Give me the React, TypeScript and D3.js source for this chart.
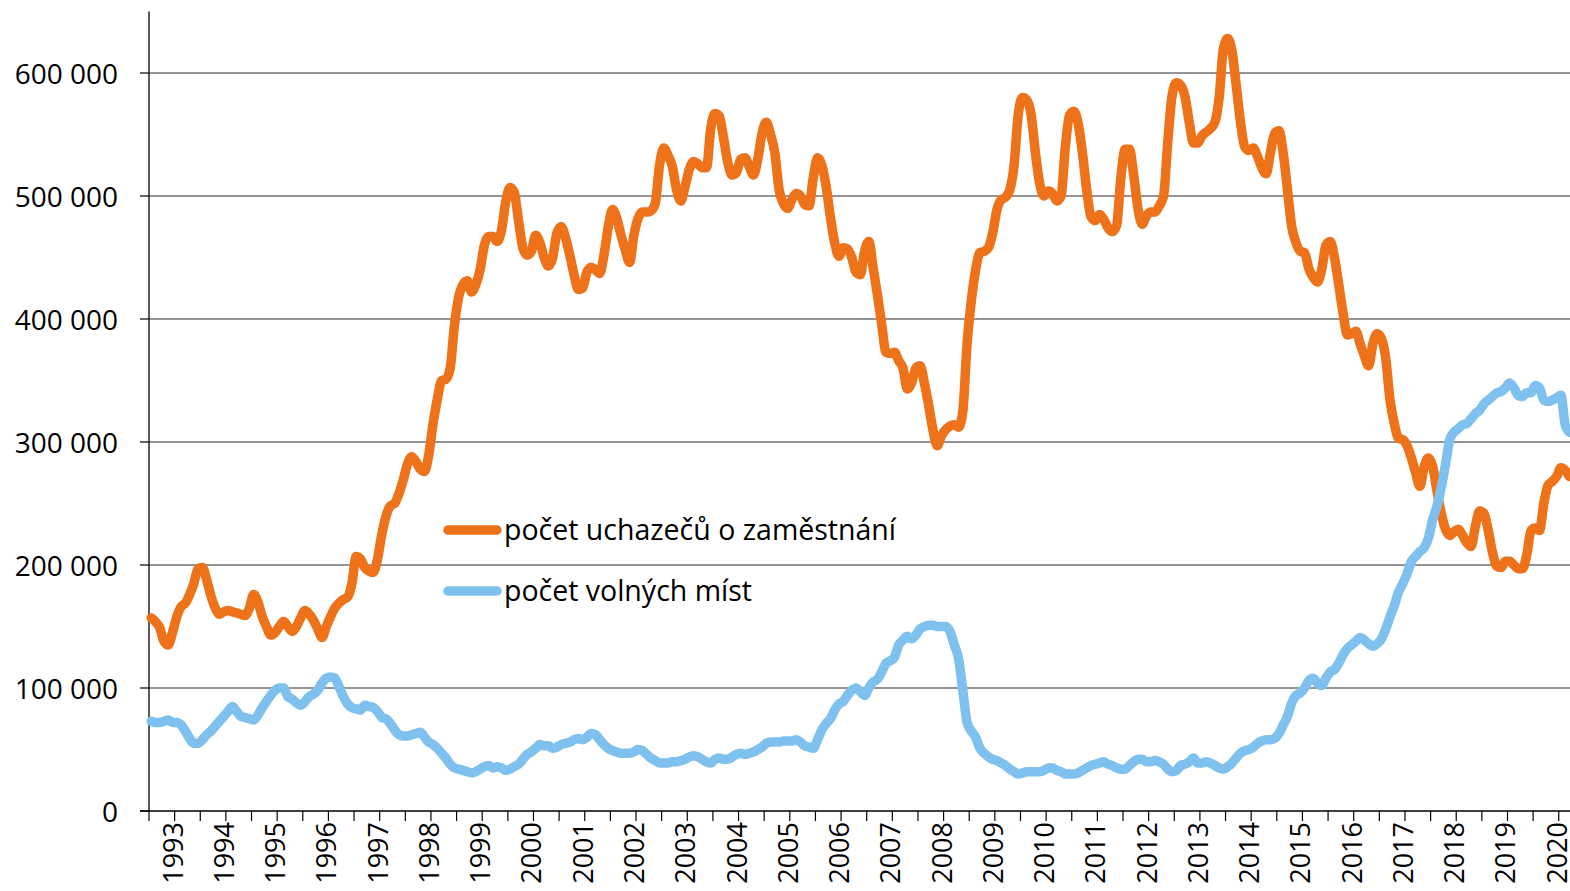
import React, { useEffect, useRef } from 'react'
import * as d3 from 'd3'

// monthly values from January 1993, in thousands
const uchazeci = [
  157, 154, 149, 138, 135, 145, 158, 166, 169, 176, 185, 197,
  198, 188, 175, 165, 160, 162, 163, 162, 161, 160, 159, 165,
  176, 170, 158, 150, 143, 145, 150, 154, 150, 146, 150, 157,
  163, 160, 155, 148, 141, 150, 158, 165, 169, 172, 174, 185,
  207, 205, 198, 195, 194, 205, 225, 240, 248, 250, 258, 269,
  282, 288, 284, 278, 276, 290, 315, 335, 350, 351, 360, 395,
  418, 428, 431, 422, 428, 440, 460, 467, 467, 463, 472, 495,
  507, 503, 480, 458, 452, 455, 468, 462, 450, 443, 450, 470,
  475, 466, 452, 436, 424, 425, 438, 442, 440, 437, 452, 475,
  489, 482, 468, 456, 446, 468, 482, 487, 487, 488, 494, 525,
  539, 533, 524, 505, 496, 508, 522, 528, 526, 523, 523, 555,
  567, 565, 547, 527, 517, 519, 530, 531, 524, 517, 530, 551,
  560, 550, 535, 505, 494, 490, 497, 502, 500, 493, 492, 515,
  531, 525, 508, 483, 462, 451, 458, 457, 450, 438, 436, 455,
  463, 442, 420, 396, 373, 372, 373, 366, 360, 343, 348, 360,
  362, 348, 330, 310, 297, 305, 310, 313, 314, 312, 325, 380,
  415, 440, 454, 455, 458, 470, 489, 497, 499, 505, 525, 567,
  580, 578, 566, 535, 510, 500, 504, 502, 496, 500, 540, 566,
  569, 559, 535, 505, 483, 480, 485, 481, 474, 471, 476, 515,
  538, 538, 517, 490, 477, 484, 487, 487, 492, 500, 545, 582,
  592, 590, 581, 560, 543, 543, 549, 552, 555, 560, 580, 620,
  628, 618, 590, 560, 540, 537, 539, 532, 523, 518, 535, 551,
  553, 535, 505, 475, 462, 455, 454, 441, 434, 430, 440, 460,
  463, 450, 428, 405, 387, 388, 390, 380, 370, 362, 380, 388,
  384, 368, 334, 315, 303, 302, 297, 287, 275, 264, 280, 287,
  280, 260, 242, 229, 224, 227, 229, 224, 218, 215, 232, 244,
  242, 228, 210, 199, 198, 203, 203, 200, 197, 197, 208, 228,
  230, 228, 250, 265, 268, 272, 279, 277, 272
]

const volnaMista = [
  73, 72, 72, 73, 74, 72, 72, 70, 65, 59, 55, 55,
  58, 62, 65, 69, 73, 77, 81, 85, 81, 77, 76, 75,
  74, 78, 84, 89, 94, 98, 100, 100, 93, 91, 88, 86,
  89, 93, 95, 98, 104, 108, 109, 108, 101, 93, 87, 84,
  83, 82, 86, 85, 84, 81, 76, 75, 71, 66, 62, 61,
  61, 62, 63, 64, 60, 56, 54, 51, 47, 43, 38, 35,
  34, 33, 32, 31, 32, 34, 36, 37, 35, 36, 35, 33,
  34, 36, 38, 42, 46, 48, 51, 54, 53, 53, 51, 52,
  54, 55, 56, 58, 59, 58, 60, 63, 62, 58, 54, 51,
  49, 48, 47, 47, 47, 48, 50, 49, 46, 43, 41, 39,
  39, 39, 40, 40, 41, 42, 44, 45, 44, 42, 40, 39,
  42, 43, 42, 42, 44, 46, 47, 46, 47, 48, 50, 52,
  55, 56, 56, 56, 57, 57, 57, 58, 56, 53, 52, 51,
  58, 66, 71, 75, 82, 87, 89, 94, 98, 100, 97, 94,
  100, 105, 107, 113, 120, 122, 125, 135, 139, 142, 140, 143,
  148, 150, 151, 151, 150, 150, 150, 146, 135, 124, 98, 72,
  65, 60, 51, 47, 44, 42, 41, 39, 37, 34, 32, 30,
  31, 32, 32, 32, 32, 33, 35, 35, 33, 32, 30, 30,
  30, 31, 33, 35, 37, 38, 39, 40, 38, 37, 35, 34,
  34, 37, 40, 42, 42, 40, 40, 41, 40, 38, 34, 32,
  33, 37, 38, 40, 43, 39, 39, 40, 39, 37, 35, 34,
  36, 39, 43, 47, 49, 50, 52, 55, 57, 58, 58, 59,
  63, 70, 77, 88, 94, 96, 100, 106, 108, 104, 102, 108,
  113, 115, 120, 127, 132, 135, 138, 141, 139, 136, 134, 136,
  140, 148, 158, 167, 178, 185, 193, 203, 207, 211, 214, 222,
  237, 248, 263, 282, 302, 308, 311, 314, 315, 319, 323, 326,
  331, 334, 337, 340, 341, 344, 348, 344, 338, 337, 340, 340,
  346, 344, 334, 333, 334, 336, 338, 314, 308
]

const years = [
  '1993', '1994', '1995', '1996', '1997', '1998', '1999', '2000', '2001', '2002',
  '2003', '2004', '2005', '2006', '2007', '2008', '2009', '2010', '2011', '2012',
  '2013', '2014', '2015', '2016', '2017', '2018', '2019', '2020'
]

const yTicks = [0, 100000, 200000, 300000, 400000, 500000, 600000]

const seriesNames = ['počet uchazečů o zaměstnání', 'počet volných míst']
const colors = ['#ED7219', '#7FC1EE']

const font = '"Open Sans", "DejaVu Sans", sans-serif'

const App = () => {
  const node = useRef<SVGSVGElement>(null)

  useEffect(() => {
    const svg = d3.select(node.current)
    svg.selectAll('*').remove()

    const left = 149
    const monthW = 4.272
    const x = d3.scaleLinear()
      .domain([0, years.length * 12])
      .range([left, left + years.length * 12 * monthW])
    const y = d3.scaleLinear()
      .domain([0, 650000])
      .range([811, 11.5])

    // gridlines
    svg.append('g')
      .selectAll('line')
      .data(yTicks.slice(1))
      .enter()
      .append('line')
      .attr('x1', left)
      .attr('x2', 1570)
      .attr('y1', d => y(d))
      .attr('y2', d => y(d))
      .attr('stroke', '#2a2a2a')
      .attr('stroke-width', 1.2)

    // y axis
    svg.append('line')
      .attr('x1', left).attr('x2', left)
      .attr('y1', y(650000)).attr('y2', y(0))
      .attr('stroke', '#000').attr('stroke-width', 1.3)

    svg.append('g')
      .selectAll('line')
      .data(yTicks)
      .enter()
      .append('line')
      .attr('x1', left - 9).attr('x2', left)
      .attr('y1', d => y(d)).attr('y2', d => y(d))
      .attr('stroke', '#000').attr('stroke-width', 1.2)

    svg.append('g')
      .selectAll('text')
      .data(yTicks)
      .enter()
      .append('text')
      .attr('x', 118)
      .attr('y', d => y(d))
      .attr('dy', '0.38em')
      .attr('text-anchor', 'end')
      .attr('font-family', font)
      .attr('font-size', 28)
      .attr('fill', '#000')
      .text(d => d3.format(',')(d).replace(/,/g, ' '))

    // x axis
    svg.append('line')
      .attr('x1', left - 9).attr('x2', 1570)
      .attr('y1', y(0)).attr('y2', y(0))
      .attr('stroke', '#000').attr('stroke-width', 1.3)

    svg.append('g')
      .selectAll('line')
      .data(d3.range(0, years.length * 2 + 1))
      .enter()
      .append('line')
      .attr('x1', d => x(d * 6)).attr('x2', d => x(d * 6))
      .attr('y1', y(0)).attr('y2', y(0) + 10)
      .attr('stroke', '#000').attr('stroke-width', 1.2)

    svg.append('g')
      .selectAll('text')
      .data(years)
      .enter()
      .append('text')
      .attr('transform', (d, i) => `translate(${x(i * 12 + 6) + 8}, 822) rotate(-90)`)
      .attr('text-anchor', 'end')
      .attr('font-family', font)
      .attr('font-size', 27)
      .attr('fill', '#000')
      .text(d => d)

    // lines
    const line = d3.line<number>()
      .x((d, i) => x(i + 0.5))
      .y(d => y(d * 1000))
      .curve(d3.curveMonotoneX)

    ;[uchazeci, volnaMista].forEach((s, k) => {
      svg.append('path')
        .datum(s)
        .attr('fill', 'none')
        .attr('stroke', colors[k])
        .attr('stroke-width', 9.5)
        .attr('stroke-linejoin', 'round')
        .attr('stroke-linecap', 'round')
        .attr('d', line)
    })

    // legend
    const legend = svg.append('g')
    seriesNames.forEach((name, k) => {
      const ly = 530 + k * 61
      legend.append('line')
        .attr('x1', 448).attr('x2', 497)
        .attr('y1', ly).attr('y2', ly)
        .attr('stroke', colors[k])
        .attr('stroke-width', 9.5)
        .attr('stroke-linecap', 'round')
      legend.append('text')
        .attr('x', 504)
        .attr('y', ly)
        .attr('dy', '0.36em')
        .attr('font-family', font)
        .attr('font-size', 28.5)
        .attr('fill', '#000')
        .text(name)
    })
  }, [])

  return (
    <svg ref={node} width={1570} height={891}
      style={{ position: 'absolute', left: 0, top: 0, background: '#fff' }} />
  )
}

export default App
